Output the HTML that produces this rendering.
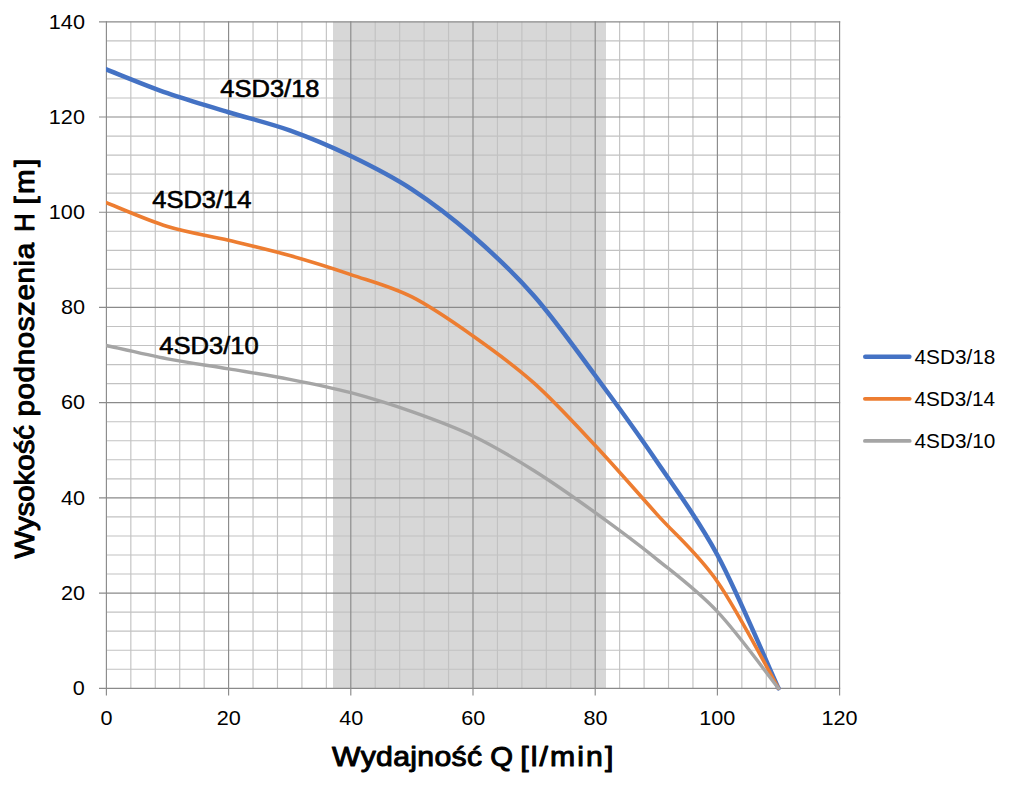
<!DOCTYPE html>
<html><head><meta charset="utf-8"><style>
html,body{margin:0;padding:0;background:#fff;width:1011px;height:787px;overflow:hidden;font-family:"Liberation Sans",sans-serif;}
svg{display:block;}
</style></head><body>
<svg width="1011" height="787" viewBox="0 0 1011 787" shape-rendering="auto">
<rect x="333" y="21.8" width="273" height="666.5" fill="#d7d7d7"/>
<line x1="130.84" y1="21.80" x2="130.84" y2="688.30" stroke="#c2c2c2" stroke-width="1.15"/>
<line x1="155.28" y1="21.80" x2="155.28" y2="688.30" stroke="#c2c2c2" stroke-width="1.15"/>
<line x1="179.72" y1="21.80" x2="179.72" y2="688.30" stroke="#c2c2c2" stroke-width="1.15"/>
<line x1="204.16" y1="21.80" x2="204.16" y2="688.30" stroke="#c2c2c2" stroke-width="1.15"/>
<line x1="253.04" y1="21.80" x2="253.04" y2="688.30" stroke="#c2c2c2" stroke-width="1.15"/>
<line x1="277.48" y1="21.80" x2="277.48" y2="688.30" stroke="#c2c2c2" stroke-width="1.15"/>
<line x1="301.92" y1="21.80" x2="301.92" y2="688.30" stroke="#c2c2c2" stroke-width="1.15"/>
<line x1="326.36" y1="21.80" x2="326.36" y2="688.30" stroke="#c2c2c2" stroke-width="1.15"/>
<line x1="375.24" y1="21.80" x2="375.24" y2="688.30" stroke="#c2c2c2" stroke-width="1.15"/>
<line x1="399.68" y1="21.80" x2="399.68" y2="688.30" stroke="#c2c2c2" stroke-width="1.15"/>
<line x1="424.12" y1="21.80" x2="424.12" y2="688.30" stroke="#c2c2c2" stroke-width="1.15"/>
<line x1="448.56" y1="21.80" x2="448.56" y2="688.30" stroke="#c2c2c2" stroke-width="1.15"/>
<line x1="497.44" y1="21.80" x2="497.44" y2="688.30" stroke="#c2c2c2" stroke-width="1.15"/>
<line x1="521.88" y1="21.80" x2="521.88" y2="688.30" stroke="#c2c2c2" stroke-width="1.15"/>
<line x1="546.32" y1="21.80" x2="546.32" y2="688.30" stroke="#c2c2c2" stroke-width="1.15"/>
<line x1="570.76" y1="21.80" x2="570.76" y2="688.30" stroke="#c2c2c2" stroke-width="1.15"/>
<line x1="619.64" y1="21.80" x2="619.64" y2="688.30" stroke="#c2c2c2" stroke-width="1.15"/>
<line x1="644.08" y1="21.80" x2="644.08" y2="688.30" stroke="#c2c2c2" stroke-width="1.15"/>
<line x1="668.52" y1="21.80" x2="668.52" y2="688.30" stroke="#c2c2c2" stroke-width="1.15"/>
<line x1="692.96" y1="21.80" x2="692.96" y2="688.30" stroke="#c2c2c2" stroke-width="1.15"/>
<line x1="741.84" y1="21.80" x2="741.84" y2="688.30" stroke="#c2c2c2" stroke-width="1.15"/>
<line x1="766.28" y1="21.80" x2="766.28" y2="688.30" stroke="#c2c2c2" stroke-width="1.15"/>
<line x1="790.72" y1="21.80" x2="790.72" y2="688.30" stroke="#c2c2c2" stroke-width="1.15"/>
<line x1="815.16" y1="21.80" x2="815.16" y2="688.30" stroke="#c2c2c2" stroke-width="1.15"/>
<line x1="106.40" y1="669.26" x2="839.60" y2="669.26" stroke="#c2c2c2" stroke-width="1.15"/>
<line x1="106.40" y1="650.21" x2="839.60" y2="650.21" stroke="#c2c2c2" stroke-width="1.15"/>
<line x1="106.40" y1="631.17" x2="839.60" y2="631.17" stroke="#c2c2c2" stroke-width="1.15"/>
<line x1="106.40" y1="612.13" x2="839.60" y2="612.13" stroke="#c2c2c2" stroke-width="1.15"/>
<line x1="106.40" y1="574.04" x2="839.60" y2="574.04" stroke="#c2c2c2" stroke-width="1.15"/>
<line x1="106.40" y1="555.00" x2="839.60" y2="555.00" stroke="#c2c2c2" stroke-width="1.15"/>
<line x1="106.40" y1="535.96" x2="839.60" y2="535.96" stroke="#c2c2c2" stroke-width="1.15"/>
<line x1="106.40" y1="516.91" x2="839.60" y2="516.91" stroke="#c2c2c2" stroke-width="1.15"/>
<line x1="106.40" y1="478.83" x2="839.60" y2="478.83" stroke="#c2c2c2" stroke-width="1.15"/>
<line x1="106.40" y1="459.79" x2="839.60" y2="459.79" stroke="#c2c2c2" stroke-width="1.15"/>
<line x1="106.40" y1="440.74" x2="839.60" y2="440.74" stroke="#c2c2c2" stroke-width="1.15"/>
<line x1="106.40" y1="421.70" x2="839.60" y2="421.70" stroke="#c2c2c2" stroke-width="1.15"/>
<line x1="106.40" y1="383.62" x2="839.60" y2="383.62" stroke="#c2c2c2" stroke-width="1.15"/>
<line x1="106.40" y1="364.57" x2="839.60" y2="364.57" stroke="#c2c2c2" stroke-width="1.15"/>
<line x1="106.40" y1="345.53" x2="839.60" y2="345.53" stroke="#c2c2c2" stroke-width="1.15"/>
<line x1="106.40" y1="326.49" x2="839.60" y2="326.49" stroke="#c2c2c2" stroke-width="1.15"/>
<line x1="106.40" y1="288.40" x2="839.60" y2="288.40" stroke="#c2c2c2" stroke-width="1.15"/>
<line x1="106.40" y1="269.36" x2="839.60" y2="269.36" stroke="#c2c2c2" stroke-width="1.15"/>
<line x1="106.40" y1="250.32" x2="839.60" y2="250.32" stroke="#c2c2c2" stroke-width="1.15"/>
<line x1="106.40" y1="231.27" x2="839.60" y2="231.27" stroke="#c2c2c2" stroke-width="1.15"/>
<line x1="106.40" y1="193.19" x2="839.60" y2="193.19" stroke="#c2c2c2" stroke-width="1.15"/>
<line x1="106.40" y1="174.14" x2="839.60" y2="174.14" stroke="#c2c2c2" stroke-width="1.15"/>
<line x1="106.40" y1="155.10" x2="839.60" y2="155.10" stroke="#c2c2c2" stroke-width="1.15"/>
<line x1="106.40" y1="136.06" x2="839.60" y2="136.06" stroke="#c2c2c2" stroke-width="1.15"/>
<line x1="106.40" y1="97.97" x2="839.60" y2="97.97" stroke="#c2c2c2" stroke-width="1.15"/>
<line x1="106.40" y1="78.93" x2="839.60" y2="78.93" stroke="#c2c2c2" stroke-width="1.15"/>
<line x1="106.40" y1="59.89" x2="839.60" y2="59.89" stroke="#c2c2c2" stroke-width="1.15"/>
<line x1="106.40" y1="40.84" x2="839.60" y2="40.84" stroke="#c2c2c2" stroke-width="1.15"/>
<line x1="106.40" y1="21.23" x2="106.40" y2="695.60" stroke="#8a8a8a" stroke-width="1.15"/>
<line x1="228.60" y1="21.23" x2="228.60" y2="695.60" stroke="#8a8a8a" stroke-width="1.15"/>
<line x1="350.80" y1="21.23" x2="350.80" y2="695.60" stroke="#8a8a8a" stroke-width="1.15"/>
<line x1="473.00" y1="21.23" x2="473.00" y2="695.60" stroke="#8a8a8a" stroke-width="1.15"/>
<line x1="595.20" y1="21.23" x2="595.20" y2="695.60" stroke="#8a8a8a" stroke-width="1.15"/>
<line x1="717.40" y1="21.23" x2="717.40" y2="695.60" stroke="#8a8a8a" stroke-width="1.15"/>
<line x1="839.60" y1="21.23" x2="839.60" y2="695.60" stroke="#8a8a8a" stroke-width="1.15"/>
<line x1="99.00" y1="688.30" x2="840.18" y2="688.30" stroke="#8a8a8a" stroke-width="1.15"/>
<line x1="99.00" y1="593.09" x2="840.18" y2="593.09" stroke="#8a8a8a" stroke-width="1.15"/>
<line x1="99.00" y1="497.87" x2="840.18" y2="497.87" stroke="#8a8a8a" stroke-width="1.15"/>
<line x1="99.00" y1="402.66" x2="840.18" y2="402.66" stroke="#8a8a8a" stroke-width="1.15"/>
<line x1="99.00" y1="307.44" x2="840.18" y2="307.44" stroke="#8a8a8a" stroke-width="1.15"/>
<line x1="99.00" y1="212.23" x2="840.18" y2="212.23" stroke="#8a8a8a" stroke-width="1.15"/>
<line x1="99.00" y1="117.02" x2="840.18" y2="117.02" stroke="#8a8a8a" stroke-width="1.15"/>
<line x1="99.00" y1="21.80" x2="840.18" y2="21.80" stroke="#8a8a8a" stroke-width="1.15"/>
<rect x="219" y="79.6" width="102" height="17.6" fill="#fff"/>
<defs><clipPath id="pc"><rect x="106" y="0" width="800" height="787"/></clipPath></defs><g clip-path="url(#pc)">
<path d="M106.40,69.41 C116.58,73.38 147.13,86.07 167.50,93.21 C187.87,100.35 208.23,106.07 228.60,112.26 C248.97,118.44 269.33,123.05 289.70,130.35 C310.07,137.65 330.43,146.21 350.80,156.05 C371.17,165.89 391.53,176.05 411.90,189.38 C432.27,202.71 452.63,218.26 473.00,236.03 C493.37,253.81 513.73,272.77 534.10,296.02 C554.47,319.27 574.83,348.07 595.20,375.52 C615.57,402.98 635.93,430.83 656.30,460.74 C676.67,490.65 697.03,517.07 717.40,555.00 C737.77,592.93 768.32,666.08 778.50,688.30" fill="none" stroke="#4472c4" stroke-width="4.5" stroke-linejoin="round" stroke-linecap="round"/>
<path d="M106.40,202.71 C116.58,206.68 147.13,220.24 167.50,226.51 C187.87,232.78 208.23,235.48 228.60,240.32 C248.97,245.16 269.33,249.84 289.70,255.55 C310.07,261.27 330.43,267.69 350.80,274.60 C371.17,281.50 391.53,286.73 411.90,296.97 C432.27,307.21 452.63,321.65 473.00,336.01 C493.37,350.37 513.73,364.89 534.10,383.14 C554.47,401.39 574.83,423.76 595.20,445.50 C615.57,467.24 635.93,490.89 656.30,513.58 C676.67,536.27 697.03,552.54 717.40,581.66 C737.77,610.78 768.32,670.53 778.50,688.30" fill="none" stroke="#ed7d31" stroke-width="3.6" stroke-linejoin="round" stroke-linecap="round"/>
<path d="M106.40,345.53 C116.58,347.75 147.13,354.97 167.50,358.86 C187.87,362.75 208.23,365.45 228.60,368.86 C248.97,372.27 269.33,375.36 289.70,379.33 C310.07,383.30 330.43,387.27 350.80,392.66 C371.17,398.06 391.53,404.48 411.90,411.70 C432.27,418.92 452.63,426.14 473.00,435.98 C493.37,445.82 513.73,457.96 534.10,470.74 C554.47,483.51 574.83,497.95 595.20,512.63 C615.57,527.31 635.93,542.31 656.30,558.81 C676.67,575.31 697.03,590.07 717.40,611.65 C737.77,633.23 768.32,675.53 778.50,688.30" fill="none" stroke="#a5a5a5" stroke-width="3.4" stroke-linejoin="round" stroke-linecap="round"/>
</g>
<line x1="865.25" y1="356.65" x2="909.35" y2="356.65" stroke="#4472c4" stroke-width="4.5" stroke-linecap="round"/>
<line x1="864.90" y1="398.80" x2="909.70" y2="398.80" stroke="#ed7d31" stroke-width="3.8" stroke-linecap="round"/>
<line x1="864.90" y1="440.95" x2="909.70" y2="440.95" stroke="#a5a5a5" stroke-width="3.8" stroke-linecap="round"/>
<g font-family="Liberation Sans" fill="#000">
<text x="72.85" y="695.10" font-size="21.00" textLength="12.03" lengthAdjust="spacingAndGlyphs">0</text>
<text x="60.96" y="599.89" font-size="21.00" textLength="24.06" lengthAdjust="spacingAndGlyphs">20</text>
<text x="60.96" y="504.67" font-size="21.00" textLength="24.06" lengthAdjust="spacingAndGlyphs">40</text>
<text x="60.96" y="409.46" font-size="21.00" textLength="24.06" lengthAdjust="spacingAndGlyphs">60</text>
<text x="60.96" y="314.24" font-size="21.00" textLength="24.06" lengthAdjust="spacingAndGlyphs">80</text>
<text x="48.84" y="219.03" font-size="21.00" textLength="36.09" lengthAdjust="spacingAndGlyphs">100</text>
<text x="48.84" y="123.82" font-size="21.00" textLength="36.09" lengthAdjust="spacingAndGlyphs">120</text>
<text x="48.84" y="28.60" font-size="21.00" textLength="36.09" lengthAdjust="spacingAndGlyphs">140</text>
<text x="100.64" y="724.70" font-size="21.00" textLength="12.03" lengthAdjust="spacingAndGlyphs">0</text>
<text x="216.79" y="724.70" font-size="21.00" textLength="24.06" lengthAdjust="spacingAndGlyphs">20</text>
<text x="339.31" y="724.70" font-size="21.00" textLength="24.06" lengthAdjust="spacingAndGlyphs">40</text>
<text x="461.19" y="724.70" font-size="21.00" textLength="24.06" lengthAdjust="spacingAndGlyphs">60</text>
<text x="583.50" y="724.70" font-size="21.00" textLength="24.06" lengthAdjust="spacingAndGlyphs">80</text>
<text x="699.21" y="724.70" font-size="21.00" textLength="36.09" lengthAdjust="spacingAndGlyphs">100</text>
<text x="821.41" y="724.70" font-size="21.00" textLength="36.09" lengthAdjust="spacingAndGlyphs">120</text>
<text x="220.29" y="97.20" font-size="23.33" textLength="99.27" lengthAdjust="spacingAndGlyphs" stroke="#000" stroke-width="0.60" stroke-linejoin="round">4SD3/18</text>
<text x="152.19" y="208.20" font-size="23.33" textLength="99.32" lengthAdjust="spacingAndGlyphs" stroke="#000" stroke-width="0.60" stroke-linejoin="round">4SD3/14</text>
<text x="159.19" y="354.20" font-size="23.33" textLength="99.58" lengthAdjust="spacingAndGlyphs" stroke="#000" stroke-width="0.60" stroke-linejoin="round">4SD3/10</text>
<g transform="scale(1.080,1)"><text x="307.50" y="765.90" font-size="27.97" textLength="138.95" lengthAdjust="spacing" stroke="#000" stroke-width="1.00" stroke-linejoin="round">Wydajność</text></g>
<g transform="scale(1.080,1)"><text x="453.83" y="765.90" font-size="27.97" textLength="21.08" lengthAdjust="spacingAndGlyphs" stroke="#000" stroke-width="1.00" stroke-linejoin="round">Q</text></g>
<g transform="scale(1.080,1)"><text x="481.75" y="765.90" font-size="27.97" textLength="86.24" lengthAdjust="spacing" stroke="#000" stroke-width="1.00" stroke-linejoin="round">[l/min]</text></g>
<g transform="translate(34.75,558.7) rotate(-90)"><g transform="scale(1.080,1)"><text x="0.19" y="-0.50" font-size="27.39" textLength="123.61" lengthAdjust="spacingAndGlyphs" stroke="#000" stroke-width="1.00" stroke-linejoin="round">Wysokość</text></g><g transform="scale(1.080,1)"><text x="131.69" y="-0.50" font-size="27.39" textLength="160.84" lengthAdjust="spacing" stroke="#000" stroke-width="1.00" stroke-linejoin="round">podnoszenia</text></g><g transform="scale(1.080,1)"><text x="302.66" y="-0.50" font-size="27.39" textLength="16.96" lengthAdjust="spacingAndGlyphs" stroke="#000" stroke-width="1.00" stroke-linejoin="round">H</text></g><g transform="scale(1.080,1)"><text x="327.90" y="-0.50" font-size="27.39" textLength="42.50" lengthAdjust="spacing" stroke="#000" stroke-width="1.00" stroke-linejoin="round">[m]</text></g></g>
<text x="914.48" y="363.80" font-size="21.01" textLength="80.88" lengthAdjust="spacingAndGlyphs">4SD3/18</text>
<text x="914.49" y="405.80" font-size="21.01" textLength="80.67" lengthAdjust="spacingAndGlyphs">4SD3/14</text>
<text x="914.48" y="447.80" font-size="21.01" textLength="80.88" lengthAdjust="spacingAndGlyphs">4SD3/10</text>
</g>
</svg>
</body></html>
